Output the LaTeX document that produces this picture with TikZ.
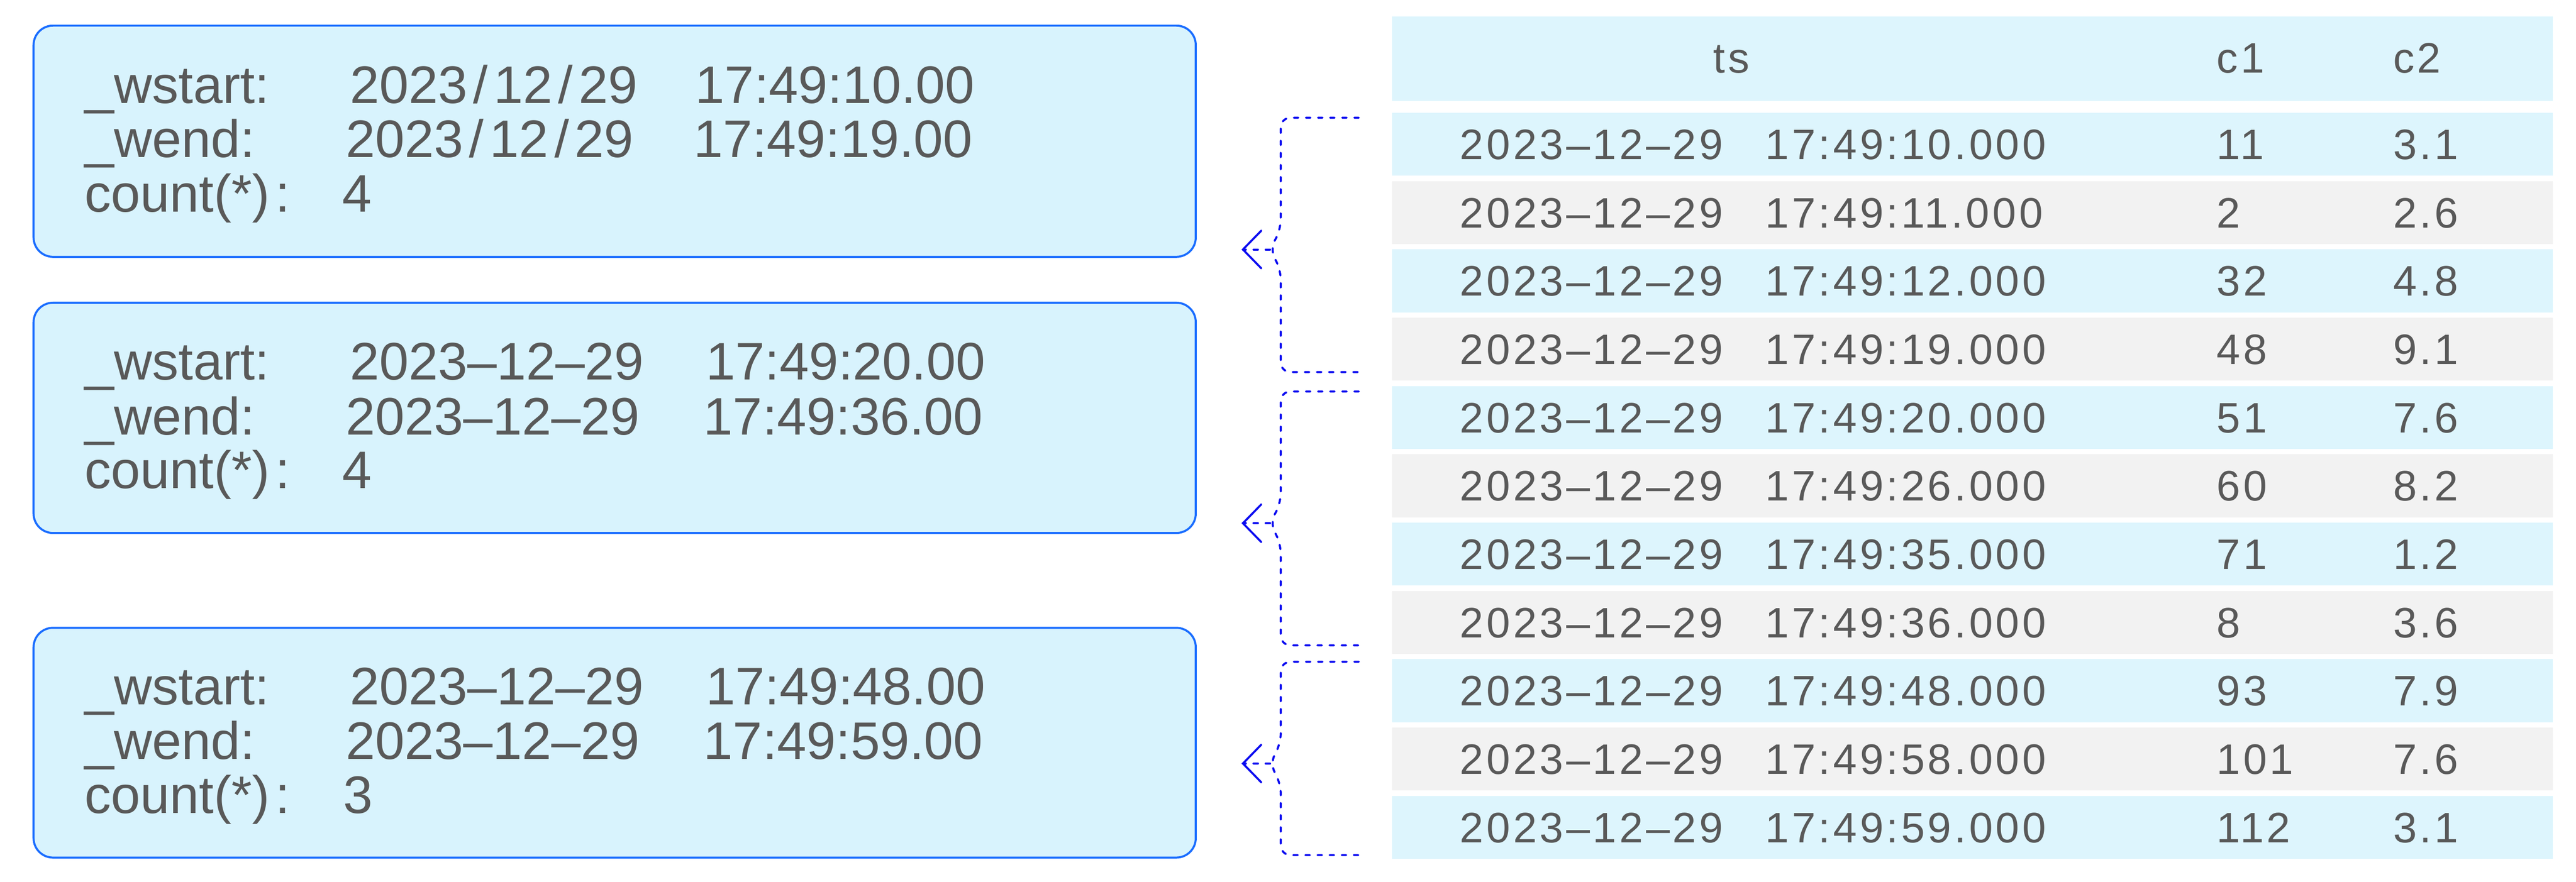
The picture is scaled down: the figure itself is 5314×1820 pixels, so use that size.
\documentclass[tikz,border=0pt]{standalone}
\usepackage{fontspec}
\setmainfont{Liberation Sans}
\newfontfamily\tbfam[LetterSpace=6.8]{Liberation Sans}
\newcommand\tbfont{\tbfam\fontsize{25pt}{30pt}\selectfont}
\newcommand\bxfont{\fontsize{31pt}{37pt}\selectfont}
\newcommand\dsl{\kern0.12cm/\kern0.12cm}
\newcommand\cnt{count(*)\kern0.12cm:}
\definecolor{boxfill}{RGB}{216,243,253}
\definecolor{boxline}{RGB}{26,109,255}
\definecolor{rowblue}{RGB}{221,245,253}
\definecolor{rowgray}{RGB}{242,242,242}
\definecolor{txt}{RGB}{89,89,89}
\definecolor{brc}{RGB}{10,10,240}
\tikzset{
  wbox/.style={draw=boxline, fill=boxfill, line width=1.2pt, rounded corners=0.4cm,
    minimum width=23.96cm, inner sep=0pt},
  btxt/.style={anchor=base west, inner sep=0pt, text=txt, font=\bxfont},
  ttxt/.style={anchor=base west, inner sep=0pt, text=txt, font=\tbfont},
  rowbox/.style={anchor=north west, inner sep=0pt, minimum width=23.93cm, minimum height=1.3cm},
  brace/.style={draw=brc, line width=1.2pt, dash pattern=on 2.6pt off 4.5pt, line cap=round, rounded corners=0.2cm},
  barb/.style={draw=brc, line width=1.2pt, line cap=round, line join=miter},
}
\begin{document}
\begin{tikzpicture}[x=0.01cm,y=-0.01cm]
\useasboundingbox (0,0) rectangle (5314,1820);

% ---- left result boxes ----
\node[wbox, minimum height=4.77cm] (box1) at (1268,291.5) {};
\node[wbox, minimum height=4.75cm] (box2) at (1268,862.5) {};
\node[wbox, minimum height=4.74cm] (box3) at (1268,1533) {};

% box 1
\node[btxt] (w1a) at (174,213) {\_wstart:};
\node[btxt] (w1b) at (721,213) {2023\dsl12\dsl29};
\node[btxt] (w1c) at (1434,213) {17:49:10.00};
\node[btxt] (e1a) at (174,325) {\_wend:};
\node[btxt] (e1b) at (713,325) {2023\dsl12\dsl29};
\node[btxt] (e1c) at (1430,325) {17:49:19.00};
\node[btxt] (n1a) at (174,437) {\cnt};
\node[btxt] (n1b) at (705,437) {4};

% box 2
\node[btxt] (w2a) at (174,784) {\_wstart:};
\node[btxt] (w2b) at (721,784) {2023–12–29};
\node[btxt] (w2c) at (1456,784) {17:49:20.00};
\node[btxt] (e2a) at (174,897) {\_wend:};
\node[btxt] (e2b) at (713,897) {2023–12–29};
\node[btxt] (e2c) at (1451,897) {17:49:36.00};
\node[btxt] (n2a) at (174,1008) {\cnt};
\node[btxt] (n2b) at (705,1008) {4};

% box 3
\node[btxt] (w3a) at (174,1454) {\_wstart:};
\node[btxt] (w3b) at (721,1454) {2023–12–29};
\node[btxt] (w3c) at (1456,1454) {17:49:48.00};
\node[btxt] (e3a) at (174,1567) {\_wend:};
\node[btxt] (e3b) at (713,1567) {2023–12–29};
\node[btxt] (e3c) at (1451,1567) {17:49:59.00};
\node[btxt] (n3a) at (174,1679) {\cnt};
\node[btxt] (n3b) at (708,1679) {3};

% ---- table ----
\node[rowbox, fill=rowblue, minimum height=1.75cm] (hdr) at (2871,33) {};
\node[anchor=base, inner sep=0pt, text=txt, font=\tbfont] (hts) at (3572,150) {ts};
\node[ttxt] (hc1) at (4572,150) {c1};
\node[ttxt] (hc2) at (4936,150) {c2};

\foreach \n/\col/\tm/\a/\b in {
  0/rowblue/10/11/3.1,
  1/rowgray/11/2/2.6,
  2/rowblue/12/32/4.8,
  3/rowgray/19/48/9.1,
  4/rowblue/20/51/7.6,
  5/rowgray/26/60/8.2,
  6/rowblue/35/71/1.2,
  7/rowgray/36/8/3.6,
  8/rowblue/48/93/7.9,
  9/rowgray/58/101/7.6,
  10/rowblue/59/112/3.1}{
  \pgfmathsetmacro\ry{232+141*\n}
  \node[rowbox, fill=\col] (row\n) at (2871,\ry) {};
  \node[ttxt] (dt\n) at (3011,\ry+97) {2023–12–29};
  \node[ttxt] (tm\n) at (3641,\ry+97) {17:49:\tm.000};
  \node[ttxt] (ca\n) at (4572,\ry+97) {\a};
  \node[ttxt] (cb\n) at (4936,\ry+97) {\b};
}

% ---- brackets and arrows ----
\foreach \k/\top/\bot/\tip in {1/243/768/515, 2/808/1332/1080, 3/1366/1765/1576}{
  \coordinate (bs\k) at (2803,\top);
  \coordinate (be\k) at (2803,\bot);
  \coordinate (bt\k) at (2620,\tip);
  \coordinate (ah\k) at (2564,\tip);
  \draw[brace] (bs\k) -- (2642,\top) -- (2642,\tip-42) -- (bt\k) -- (2642,\tip+42) -- (2642,\bot) -- (be\k);
  \draw[brace] (bt\k) -- (ah\k);
  \draw[barb] (ah\k) ++(38,-39) -- (ah\k) -- ++(38,39);
}
\end{tikzpicture}
\end{document}
